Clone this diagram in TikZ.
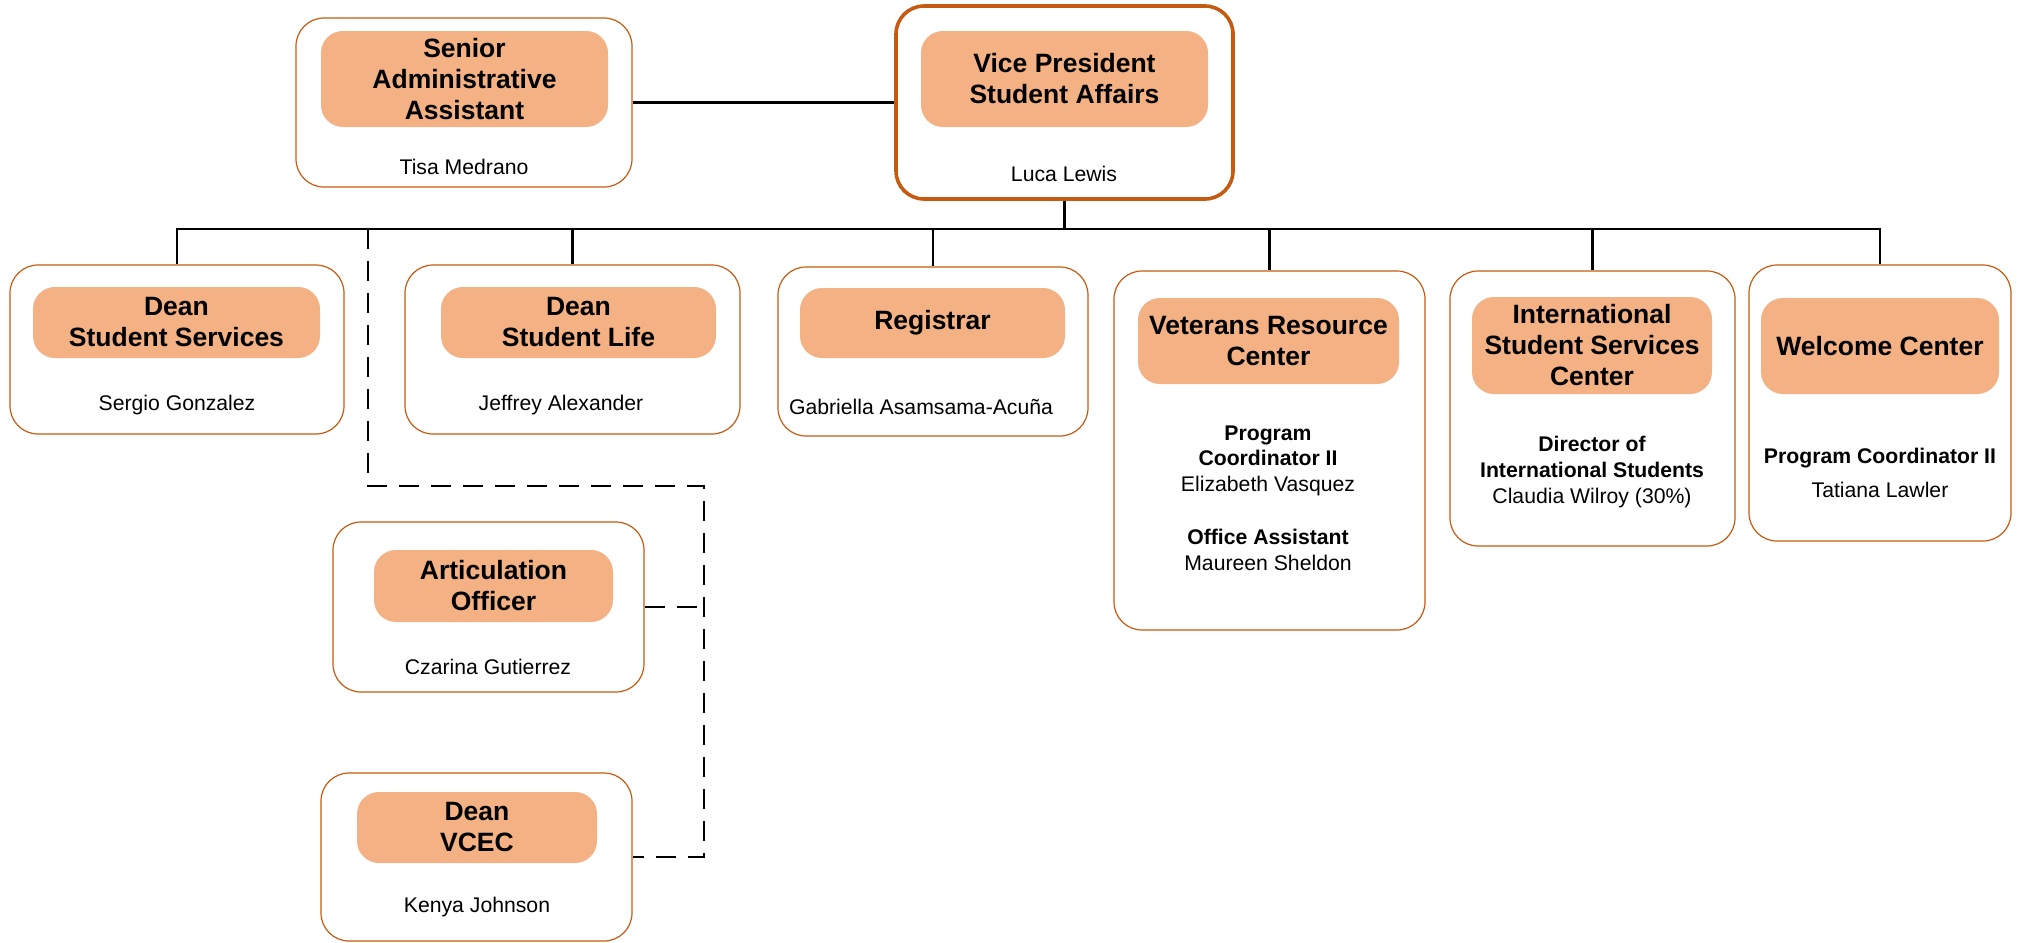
\documentclass[tikz,border=0pt]{standalone}
\usepackage{fontspec}
\setmainfont{Liberation Sans}
\usetikzlibrary{calc}
\definecolor{boxorange}{HTML}{C55A11}
\definecolor{peach}{HTML}{F4B183}
\newcommand\ttlfont{\fontsize{13.25pt}{15.5pt}\selectfont\bfseries}
\newcommand\bdyfont{\fontsize{10.6pt}{12.8pt}\selectfont}
\tikzset{
  outer/.style={draw=boxorange, line width=0.6pt, rounded corners=14pt, fill=white, inner sep=0pt},
  vpouter/.style={outer, line width=1.8pt},
  ttl/.style={fill=peach, rounded corners=11pt, inner sep=0pt, align=center, font=\ttlfont},
  namet/.style={font=\bdyfont, align=center, inner sep=0pt},
  conn/.style={line width=1.2pt, draw=black},
  dconn/.style={conn, dash pattern=on 10pt off 6pt},
}
\begin{document}
\begin{tikzpicture}[x=0.5pt,y=-0.5pt]
\useasboundingbox (0,0) rectangle (2020,943);
% outer boxes
\node[outer, minimum width=168pt, minimum height=84.5pt] (sen) at (464,102.5) {};
\node[vpouter, minimum width=168.5pt, minimum height=96.5pt] (vp) at (1064.5,102.5) {};
\node[outer, minimum width=167pt, minimum height=84.5pt] (ss) at (177,349.5) {};
\node[outer, minimum width=167.5pt, minimum height=84.5pt] (sl) at (572.5,349.5) {};
\node[outer, minimum width=155pt, minimum height=84.5pt] (reg) at (933,351.5) {};
\node[outer, minimum width=155.5pt, minimum height=179.5pt] (vet) at (1269.5,450.5) {};
\node[outer, minimum width=142.5pt, minimum height=137.5pt] (int) at (1592.5,408.5) {};
\node[outer, minimum width=131pt, minimum height=138pt] (wel) at (1880,403) {};
\node[outer, minimum width=155.5pt, minimum height=85pt] (art) at (488.5,607) {};
\node[outer, minimum width=155.5pt, minimum height=84pt] (vcec) at (476.5,857) {};
% title boxes
\node[ttl, minimum width=143.5pt, minimum height=48pt] (senT) at (464.5,79) {Senior\\Administrative\\Assistant};
\node[ttl, minimum width=143.5pt, minimum height=48pt] (vpT) at (1064.5,79) {Vice President\\Student Affairs};
\node[ttl, minimum width=143.5pt, minimum height=35.5pt] (ssT) at (176.5,322.5) {Dean\\Student Services};
\node[ttl, minimum width=137.5pt, minimum height=35.5pt] (slT) at (578.5,322.5) {Dean\\Student Life};
\node[ttl, minimum width=132.5pt, minimum height=35pt] (regT) at (932.5,323) {Registrar};
\node[ttl, minimum width=130.5pt, minimum height=43pt] (vetT) at (1268.5,341) {Veterans Resource\\Center};
\node[ttl, minimum width=120pt, minimum height=48.5pt] (intT) at (1592,345.5) {International\\Student Services\\Center};
\node[ttl, minimum width=119pt, minimum height=48pt] (welT) at (1880,346) {Welcome Center};
\node[ttl, minimum width=119.5pt, minimum height=36pt] (artT) at (493.5,586) {Articulation\\Officer};
\node[ttl, minimum width=120pt, minimum height=35.5pt] (vcecT) at (477,827.5) {Dean\\VCEC};
% names
\node[namet] (senN) at (464,167) {Tisa Medrano};
\node[namet] (vpN) at (1064,174) {Luca Lewis};
\node[namet] (ssN) at (177,405) {Sergio Gonzalez};
\node[namet] (slN) at (561,405) {Jeffrey Alexander};
\node[namet] (regN) at (921,407) {Gabriella Asamsama-Acuña};
\node[namet] (vetN1) at (1268,460.5) {\textbf{Program}\\\textbf{Coordinator II}\\Elizabeth Vasquez};
\node[namet] (vetN2) at (1268,550) {\textbf{Office Assistant}\\Maureen Sheldon};
\node[namet] (intN) at (1592,472) {\textbf{Director of}\\\textbf{International Students}\\Claudia Wilroy (30\%)};
\node[namet] (welN1) at (1880,458) {\textbf{Program Coordinator II}};
\node[namet] (welN2) at (1880,490) {Tatiana Lawler};
\node[namet] (artN) at (488,667) {Czarina Gutierrez};
\node[namet] (vcecN) at (477,907) {Kenya Johnson};
% connectors
\coordinate (bus) at (0,229);
\draw[conn] (sen) -- (vp);
\foreach \c in {ss,sl,reg,vet,int,wel}{
  \draw[conn] (vp.south) |- (\c.north |- bus) -- (\c.north);
}
\coordinate (dtop) at (368,229);
\coordinate (dj) at (704,486);
\draw[dconn] (dtop) |- (dj) |- (vcec.east);
\draw[dconn] (art.east) -- (art.east -| dj);
\end{tikzpicture}
\end{document}
